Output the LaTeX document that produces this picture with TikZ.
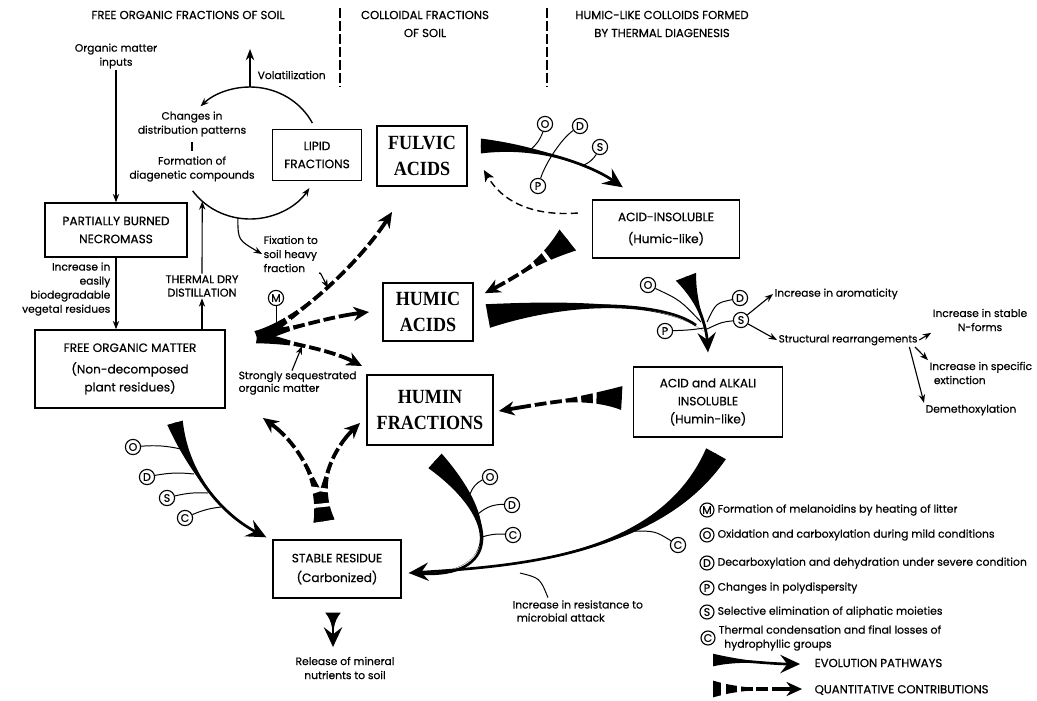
\documentclass[tikz,border=0pt]{standalone}
\usepackage{fontspec}
\setmainfont{Poppins}[FakeBold=0.5]
\setsansfont{Poppins}[FakeBold=0.5]
\newfontfamily\bigserif[FakeStretch=0.9]{Liberation Serif}
\usetikzlibrary{arrows.meta,calc,positioning}

% tapered black band ending in an arrowhead
\newcommand{\evoarrow}[6][evoline]{%
  \fill ($(#2)!#6!90:(#3)$) .. controls (#3) and (#4) .. (#5)
    .. controls (#4) and (#3) .. ($(#2)!#6!-90:(#3)$) -- cycle;
  \draw[#1] (#2) .. controls (#3) and (#4) .. (#5);}
% the same band, cut into pieces
\newcommand{\quantarrow}[7][quantline]{%
  \fill ($(#2)!#6!90:(#3)$) .. controls (#3) and (#4) .. (#5)
    .. controls (#4) and (#3) .. ($(#2)!#6!-90:(#3)$) -- cycle;
  \draw[#1] (#2) .. controls (#3) and (#4) .. (#5);
  \draw[gaps, line width=2*#6+4pt, shorten <=#7, shorten >=15pt]
    (#2) .. controls (#3) and (#4) .. (#5);}

\begin{document}
\begin{tikzpicture}[x=0.025cm, y=-0.025cm,
    every node/.style={font=\fontsize{7.6}{10}\selectfont},
    lbl/.style={align=center, inner sep=1pt},
    legtxt/.style={inner sep=1pt, font=\fontsize{7.7}{10}\selectfont},
    headtxt/.style={align=center, inner sep=1pt, font=\fontsize{8.3}{12.8}\selectfont},
    box/.style={draw, line width=1pt, align=center, inner sep=2pt, font=\fontsize{8.6}{12.8}\selectfont},
    bigbox/.style={draw, line width=1.2pt, align=center, inner sep=2pt, font=\bigserif\bfseries\fontsize{14.3}{18}\selectfont},
    tagc/.style={draw, circle, line width=0.8pt, inner sep=0pt, minimum size=0.38cm, font=\fontsize{7.8}{7.8}\selectfont},
    ltag/.style={tagc, minimum size=0.35cm},
    tagline/.style={line width=0.7pt},
    thin arrow/.style={line width=0.8pt, -{Stealth[length=6pt, width=4.5pt]}},
    evoline/.style={line width=1.9pt, -{Stealth[length=14pt, width=13pt, inset=5pt]}},
    evojoin/.style={line width=1.9pt, shorten >=8pt},
    quantline/.style={line width=2.7pt, -{Stealth[length=11pt, width=10pt, inset=3.5pt]}},
    gaps/.style={white, dash pattern=on 2.6pt off 8.5pt},
    backflow/.style={line width=1pt, dash pattern=on 5pt off 3pt, -{Stealth[length=8pt, width=7pt, inset=2pt]}},
    divider/.style={line width=1.5pt, dash pattern=on 7pt off 2.2pt}]

  \useasboundingbox (0,0) rectangle (1037,700);

  % column headings
  \node[headtxt] (hfree) at (188,15) {FREE ORGANIC FRACTIONS OF SOIL};
  \node[headtxt] (hcoll) at (425,24) {COLLOIDAL FRACTIONS\\OF SOIL};
  \node[headtxt] (htherm) at (662,24) {HUMIC-LIKE COLLOIDS FORMED\\BY THERMAL DIAGENESIS};
  \draw[divider] (340,8) -- (340,86);
  \draw[divider] (547,8) -- (547,86);

  % boxes
  \node[box, minimum width=3.55cm, minimum height=1.35cm] (necro) at (116,230) {PARTIALLY BURNED\\NECROMASS};
  \node[box, minimum width=4.75cm, minimum height=1.95cm] (fom) at (130,369) {FREE ORGANIC MATTER\\[2.5pt](Non-decomposed\\plant residues)};
  \node[box, minimum width=2.225cm, minimum height=1.275cm] (lipid) at (317,155) {LIPID\\FRACTIONS};
  \node[bigbox, minimum width=2.25cm, minimum height=1.5cm] (fulvic) at (422,156) {FULVIC\\ACIDS};
  \node[bigbox, minimum width=2.25cm, minimum height=1.45cm] (humic) at (428,312) {HUMIC\\ACIDS};
  \node[bigbox, minimum width=3.15cm, minimum height=1.75cm] (humin) at (430,410) {HUMIN\\FRACTIONS};
  \node[box, minimum width=3.675cm, minimum height=1.45cm, font=\fontsize{8.6}{15.6}\selectfont] (acidins) at (666,229) {ACID-INSOLUBLE\\(Humic-like)};
  \node[box, minimum width=3.725cm, minimum height=1.75cm] (alkali) at (708,402) {ACID and ALKALI\\INSOLUBLE\\(Humin-like)};
  \node[box, minimum width=3.2cm, minimum height=1.45cm, font=\fontsize{8.6}{14}\selectfont] (stable) at (337,569) {STABLE RESIDUE\\(Carbonized)};

  % labels
  \node[lbl] (inputs) at (116,56) {Organic matter\\inputs};
  \node[lbl, align=right, anchor=east] (easily) at (112,289) {Increase in\\easily\\biodegradable\\vegetal residues};
  \node[headtxt, font=\fontsize{8}{9.5}\selectfont] (thermal) at (202,286) {THERMAL DRY\\DISTILLATION};
  \node[lbl] (changes) at (192,124) {Changes in\\distribution patterns};
  \node[lbl] (formation) at (192,169) {Formation of\\diagenetic compounds};
  \node[lbl, anchor=west] (volat) at (256,75) {Volatilization};
  \node[lbl, align=left, anchor=west] (fixation) at (262,254) {Fixation to\\soil heavy\\fraction};
  \node[lbl, align=left, anchor=west, font=\fontsize{7.6}{9}\selectfont] (strongly) at (237,383) {Strongly sequestrated\\organic matter};
  \node[lbl] (release) at (345,668) {Release of mineral\\nutrients to soil};
  \node[lbl, align=left, anchor=west, font=\fontsize{7.6}{9.3}\selectfont] (resist) at (511,611) {Increase in resistance to\\\hspace{3pt}microbial attack};
  \node[lbl, anchor=west] (arom) at (773,294) {Increase in aromaticity};
  \node[lbl, anchor=west, font=\fontsize{7.4}{10}\selectfont] (struct) at (777,340) {Structural rearrangements};
  \node[lbl] (nforms) at (980,320) {Increase in stable\\N-forms};
  \node[lbl, align=left, anchor=west] (specific) at (928,373) {Increase in specific\\\hspace{3pt}extinction};
  \node[lbl, anchor=west] (demeth) at (924,410) {Demethoxylation};

  % end points of the broad pathways
  \coordinate (fa0) at ($(fulvic.east)+(13,-10)$);
  \coordinate (fa1) at ($(acidins.north west)+(31,-12)$);
  \coordinate (ha0) at ($(humic.east)+(14,4)$);
  \coordinate (junc) at (705,332);
  \coordinate (ia0) at ($(acidins.south)+(20,18)$);
  \coordinate (ia1) at ($(alkali.north)+(0,-14)$);
  \coordinate (fo0) at ($(fom.south)+(45,14)$);
  \coordinate (fo1) at ($(stable.north west)+(-6,-2)$);
  \coordinate (hu0) at ($(humin.south)+(5,15)$);
  \coordinate (st1) at ($(stable.east)+(7,4)$);
  \coordinate (al0) at ($(alkali.south)+(8,16)$);
  \coordinate (re0) at ($(stable.south)+(-4,14)$);
  \coordinate (re1) at (333,647);
  \coordinate (ai0) at ($(acidins.west)+(-24,11)$);
  \coordinate (hm1) at ($(humic.north east)+(11,11)$);
  \coordinate (ak0) at ($(alkali.west)+(-11,-4)$);
  \coordinate (hn1) at ($(humin.east)+(5,1)$);
  \coordinate (fb0) at ($(acidins.west)+(-14,-16)$);
  \coordinate (fb1) at ($(fulvic.east)+(16,14)$);
  \coordinate (ybase) at (324,521);
  \coordinate (yleft) at (263,418);
  \coordinate (yright) at (360,423);
  \coordinate (mbase) at (257,337);
  \coordinate (mful) at (392,212);
  \coordinate (mhum) at (369,312);
  \coordinate (mhun) at (362,366);

  % quantitative contributions
  \quantarrow{ai0}{540,262}{512,279}{hm1}{9.5pt}{18pt}
  \quantarrow{ak0}{585,396}{540,404}{hn1}{8.5pt}{18pt}
  \quantarrow{ybase}{318,482}{300,445}{yleft}{7.5pt}{10pt}
  \quantarrow{ybase}{318,482}{334,448}{yright}{7.5pt}{10pt}
  \quantarrow{mbase}{300,318}{360,262}{mful}{4.5pt}{24pt}
  \quantarrow{mbase}{300,326}{335,316}{mhum}{4.5pt}{24pt}
  \quantarrow{mbase}{300,344}{335,352}{mhun}{4.5pt}{24pt}

  % evolution pathways
  \evoarrow{fa0}{540,146}{592,166}{fa1}{5.3pt}
  \evoarrow[evojoin]{ha0}{575,300}{665,302}{junc}{8.5pt}
  \evoarrow{ia0}{695,300}{706,322}{ia1}{7.8pt}
  \evoarrow{fo0}{188,470}{218,512}{fo1}{5.7pt}
  \evoarrow[evojoin]{hu0}{500,520}{500,578}{st1}{7pt}
  \evoarrow{al0}{660,555}{520,566}{st1}{8pt}
  \evoarrow{re0}{333,622}{333,632}{re1}{5.5pt}
  \draw[backflow] (fb0) .. controls (540,216) and (505,206) .. (fb1);

  % left column arrows
  \draw[thin arrow] (inputs) -- (inputs |- necro.north);
  \draw[thin arrow] (necro) -- (necro |- fom.north);
  \draw[thin arrow] (fom.north -| thermal) -- (thermal.south);

  % the lipid cycle
  \coordinate (cyc) at (250,153);
  \path (cyc) ++(-27:70 and 66) coordinate (arcA)
        (cyc) ++(145:70 and 66) coordinate (arcB)
        (cyc) ++(133:70 and 66) coordinate (thermtip)
        (cyc) ++(-90:70 and 66) coordinate (cyctop)
        (cyc) ++(100:70 and 66) coordinate (fixfoot);
  \coordinate (volup) at (250,49);
  \draw[thin arrow, line width=1pt] (arcA) arc[start angle=-27, end angle=-135, x radius=70, y radius=66];
  \draw[thin arrow, line width=1pt] (arcB) arc[start angle=145, end angle=32, x radius=70, y radius=66];
  \draw[thin arrow] (thermal.north) -- (thermtip);
  \draw[line width=1.2pt, -{Stealth[length=8pt, width=6pt]}] (cyctop) -- (volup);
  \draw[line width=2pt, shorten <=3pt, shorten >=3pt] (changes) -- (formation);
  \draw[thin arrow] (fixfoot) .. controls (238,240) .. (fixation.west);
  \draw[thin arrow] (fixation.south east) .. controls (320,272) .. (328,288);
  \draw[thin arrow] ($(strongly.north west)+(55,1)$) -- (302,346);

  % process tags on the pathways
  \node[tagc] (mtag) at (276,298) {M};
  \draw[tagline] (mtag) -- (276,331);

  \node[tagc] (o1) at (545,124) {O};
  \node[tagc] (d1) at (580,126) {D};
  \node[tagc] (s1) at (600,147) {S};
  \node[tagc] (p1) at (538,186) {P};
  \draw[tagline] (o1) to[bend left=15] (530,150);
  \draw[tagline] (p1) .. controls (546,162) and (562,138) .. (d1);
  \draw[tagline] (s1) to[bend left=15] (584,165);

  \node[tagc] (o2) at (648,285) {O};
  \node[tagc] (p2) at (665,331) {P};
  \node[tagc] (d2) at (740,298) {D};
  \node[tagc] (s2) at (741,320) {S};
  \draw[tagline] (o2) .. controls (680,300) .. (701,322);
  \draw[tagline] (p2) .. controls (690,330) .. (704,328);
  \draw[tagline] (d2) .. controls (716,303) .. (707,322);
  \draw[tagline] (s2) .. controls (722,322) .. (707,329);
  \draw[thin arrow] (s2) -- (arom.west);
  \draw[thin arrow] (s2) -- (struct.west);
  \draw[thin arrow] (struct.east) -- (nforms.south west);
  \draw[thin arrow] ([xshift=-3pt]struct.south east) -- (specific.north west);
  \draw[thin arrow] ([xshift=-7pt]struct.south east) -- (demeth.north west);

  \node[tagc] (o3) at (133,447) {O};
  \node[tagc] (d3) at (147,477) {D};
  \node[tagc] (s3) at (167,498) {S};
  \node[tagc] (c3) at (185,518) {C};
  \draw[tagline] (o3) to[bend left=8] (181,449);
  \draw[tagline] (d3) to[bend left=8] (194,474);
  \draw[tagline] (s3) to[bend left=8] (208,493);
  \draw[tagline] (c3) to[bend left=8] (221,507);

  \node[tagc] (o4) at (490,477) {O};
  \node[tagc] (d4) at (512,505) {D};
  \node[tagc] (c4) at (513,535) {C};
  \draw[tagline] (o4) to[bend right=20] (470,494);
  \draw[tagline] (d4) to[bend right=20] (478,514);
  \draw[tagline] (c4) to[bend right=10] (482,537);

  \node[tagc] (c5) at (678,545) {C};
  \draw[tagline] (c5) .. controls (655,531) .. (633,531);
  \draw[tagline] (520,573) .. controls (540,578) .. ($(resist.north west)+(37,-1)$);

  % legend
  \node[ltag] (lm) at (707,510) {M};
  \node[legtxt, right=1pt of lm] (lmt) {Formation of melanoidins by heating of litter};
  \node[ltag] (lo) at (707,535) {O};
  \node[legtxt, right=1pt of lo] (lot) {Oxidation and carboxylation during mild conditions};
  \node[ltag] (ld) at (707,563) {D};
  \node[legtxt, right=1pt of ld] (ldt) {Decarboxylation and dehydration under severe condition};
  \node[ltag] (lp) at (707,588) {P};
  \node[legtxt, right=1pt of lp] (lpt) {Changes in polydispersity};
  \node[ltag] (ls) at (707,612) {S};
  \node[legtxt, right=1pt of ls] (lst) {Selective elimination of aliphatic moieties};
  \node[ltag] (lc) at (708,638) {C};
  \node[legtxt, align=left, right=1pt of lc] (lct) {Thermal condensation and final losses of\\\hspace{4pt}hydrophyllic groups};

  \coordinate (lev0) at (713,660);
  \coordinate (lev1) at (800,664);
  \coordinate (lq0) at (713,689);
  \coordinate (lq1) at (802,689);
  \evoarrow{lev0}{740,660}{772,664}{lev1}{4.5pt}
  \quantarrow{lq0}{740,689}{772,689}{lq1}{6pt}{6pt}
  \node[headtxt, anchor=west] (levo) at (813,663) {EVOLUTION PATHWAYS};
  \node[headtxt, anchor=west] (lquant) at (813,690) {QUANTITATIVE CONTRIBUTIONS};
\end{tikzpicture}
\end{document}
